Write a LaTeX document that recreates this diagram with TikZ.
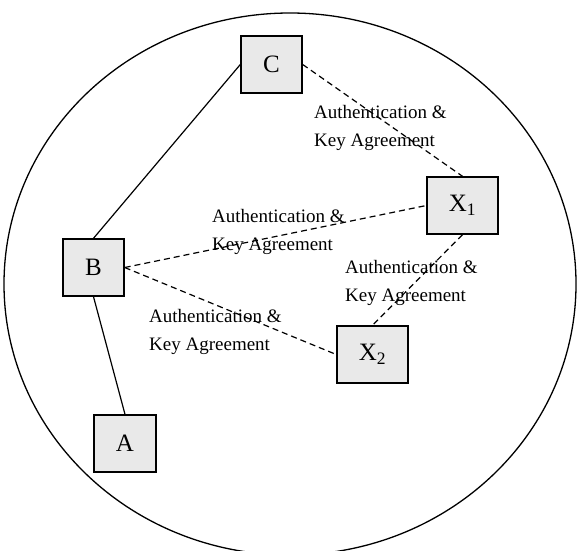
\documentclass[tikz,border=0pt]{standalone}
\usepackage{fontspec}
\setmainfont{Liberation Serif}
\usetikzlibrary{positioning}

\begin{document}
\begin{tikzpicture}[x=1pt, y=-1pt,
		box/.style={draw, line width=1.4pt, fill=gray!17, minimum height=57pt, inner sep=0pt, font=\fontsize{25}{30}\selectfont},
		link/.style={line width=1.2pt},
		authlink/.style={line width=1.2pt, dash pattern=on 6pt off 4pt},
		auth/.style={anchor=west, align=left, inner sep=0pt, font=\fontsize{19}{27.8}\selectfont}]
			\useasboundingbox (0,0) rectangle (577,550);
			
			% Domain
			\draw[line width=1.3pt] (290,284) ellipse [x radius=286, y radius=271];
			
			% Entities
			\node[box, minimum width=61pt] (C) at (271.5,64.5) {C};
			\node[box, minimum width=61pt] (B) at (93.5,267.5) {B};
			\node[box, minimum width=62pt] (A) at (125,443.5) {A};
			\node[box, minimum width=71pt] (X1) at (462.5,205.5) {X\textsubscript{1}};
			\node[box, minimum width=71pt] (X2) at (372.5,354.5) {X\textsubscript{2}};
			
			% Links
			\draw[link] (C.west) -- (B.north);
			\draw[link] (B.south) -- (A.north);
			\draw[authlink] (C.east) -- (X1.north);
			\draw[authlink] (B.east) -- (X1.west);
			\draw[authlink] (B.east) -- (X2.west);
			\draw[authlink] (X1.south) -- (X2.north);
			
			% Labels
			\foreach \name/\x/\y in {lCX/314/128, lBX/212/232, lXX/345/283, lBY/149/332} {
				\node[auth] (\name) at (\x,\y) {Authentication \&\\Key Agreement};
			}
		\end{tikzpicture}
\end{document}
